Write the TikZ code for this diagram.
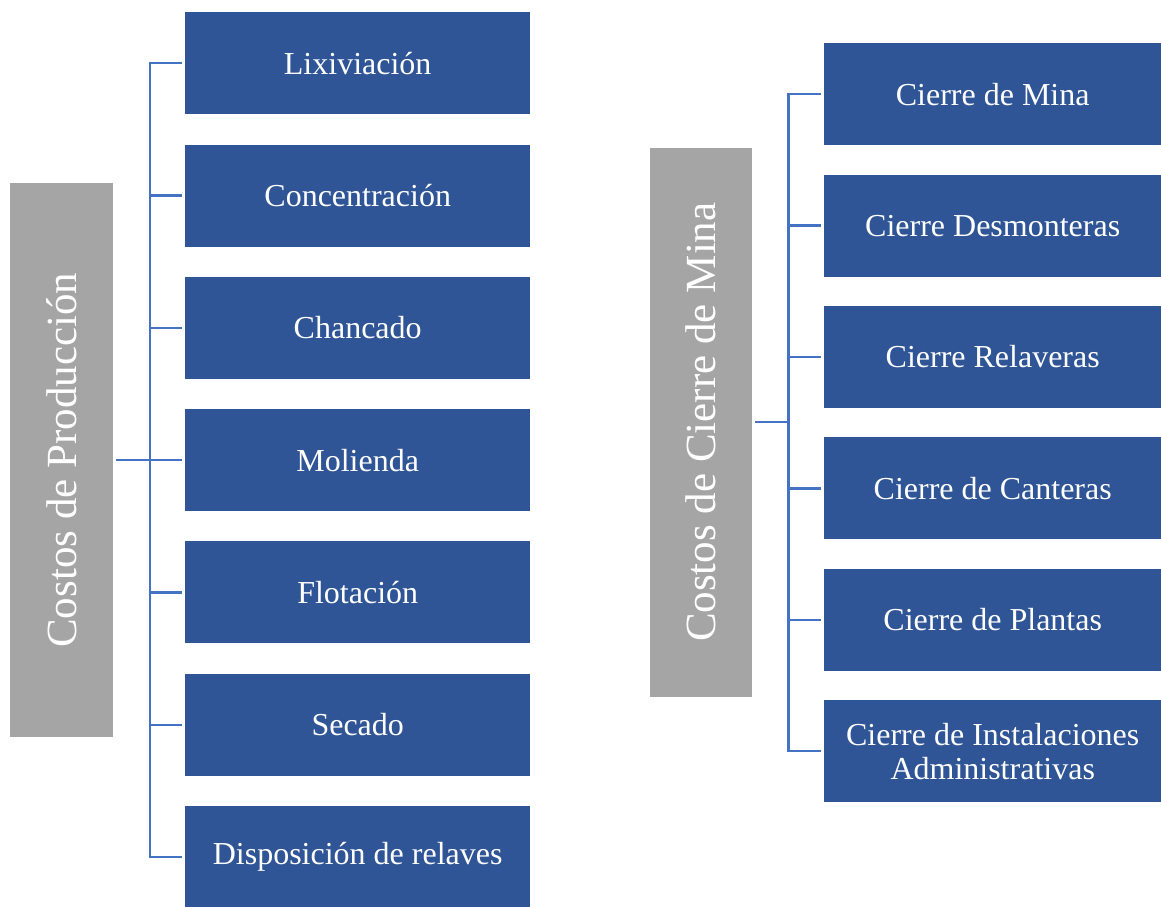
\documentclass[tikz,border=0pt]{standalone}
\usepackage{fontspec}
\setmainfont{Liberation Serif}
\definecolor{boxblue}{HTML}{2F5597}
\definecolor{linkblue}{HTML}{4472C4}
\definecolor{catgray}{HTML}{A5A5A5}
\tikzset{
  leaf/.style={fill=boxblue, draw=none, inner sep=0pt, anchor=north west, text=white,
    align=center, font=\fontsize{32}{34}\selectfont},
  leafL/.style={leaf, minimum width=345pt, minimum height=102pt},
  leafR/.style={leaf, minimum width=337pt, minimum height=102pt},
  cat/.style={fill=catgray, draw=none, inner sep=0pt, anchor=north west},
  cattext/.style={rotate=90, text=white, font=\fontsize{43}{48}\selectfont},
  conn/.style={draw=linkblue, line width=2.4pt}
}
\begin{document}
\begin{tikzpicture}[x=1pt,y=-1pt]
\useasboundingbox[clip] (0,0) rectangle (1161,906);
% left group
\node[cat, minimum width=103pt, minimum height=554pt] (lg) at (10,183) {};
\node[cattext] (lgt) at (lg.center) {Costos de Producción};
\node[leafL] (l1) at (185,12) {Lixiviación};
\node[leafL] (l2) at (185,144.3) {Concentración};
\node[leafL] (l3) at (185,276.6) {Chancado};
\node[leafL] (l4) at (185,408.9) {Molienda};
\node[leafL] (l5) at (185,541.2) {Flotación};
\node[leafL] (l6) at (185,673.5) {Secado};
\node[leafL, minimum height=101pt] (l7) at (185,806) {Disposición de relaves};
\coordinate (sL) at (150,460);
\draw[conn] ([xshift=3pt]lg.east) -- (sL |- lg.east);
\draw[conn] (sL |- l1.west) -- (sL |- l7.west);
\foreach \n in {l1,l2,l3,l4,l5,l6,l7}{
  \draw[conn] ([xshift=-1.2pt]sL |- \n.west) -- ([xshift=-3pt]\n.west);
}
% right group
\node[cat, minimum width=102pt, minimum height=549pt] (rg) at (650,147.5) {};
\node[cattext] (rgt) at (rg.center) {Costos de Cierre de Mina};
\node[leafR] (r1) at (824,43) {Cierre de Mina};
\node[leafR] (r2) at (824,174.4) {Cierre Desmonteras};
\node[leafR] (r3) at (824,305.8) {Cierre Relaveras};
\node[leafR] (r4) at (824,437.2) {Cierre de Canteras};
\node[leafR] (r5) at (824,568.6) {Cierre de Plantas};
\node[leafR] (r6) at (824,700) {Cierre de Instalaciones\\Administrativas};
\coordinate (sR) at (788.5,422);
\draw[conn] ([xshift=3pt]rg.east) -- (sR |- rg.east);
\draw[conn] (sR |- r1.west) -- (sR |- r6.west);
\foreach \n in {r1,r2,r3,r4,r5,r6}{
  \draw[conn] ([xshift=-1.2pt]sR |- \n.west) -- ([xshift=-3pt]\n.west);
}
\end{tikzpicture}
\end{document}
